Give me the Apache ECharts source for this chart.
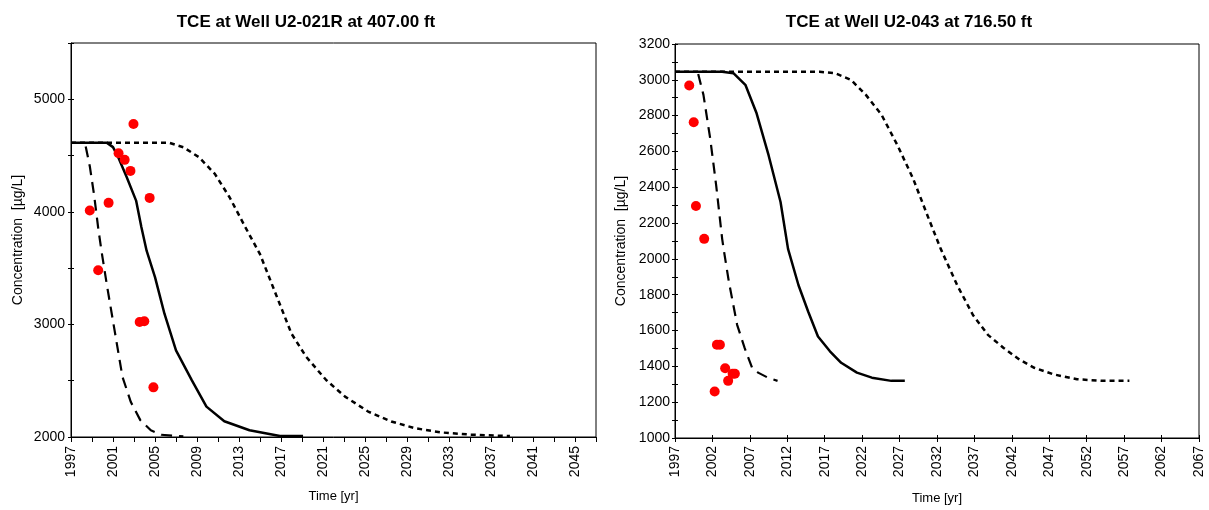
<!DOCTYPE html>
<html><head><meta charset="utf-8">
<script src="https://cdn.jsdelivr.net/npm/echarts@6/dist/echarts.min.js"></script>
<style>html,body{margin:0;padding:0;background:#fff}#c{width:1209px;height:510px}</style>
</head><body><div id="c"></div>
<script>
// ---- Left chart: TCE at Well U2-021R ----
var leftTitle = 'TCE at Well U2-021R at 407.00 ft';
var leftSolid = [[1997,4615],[2000.4,4615],[2001.0,4575],[2001.5,4485],[2002.3,4310],[2003.2,4100],[2003.7,3865],[2004.2,3655],[2005.0,3420],[2005.9,3095],[2007.0,2770],[2008.5,2505],[2009.9,2270],[2011.6,2140],[2014.0,2060],[2016.9,2008],[2019.1,2008]];
var leftDashed = [[1998.4,4580],[1998.8,4400],[1999.2,4150],[1999.6,3850],[1999.9,3655],[2000.4,3360],[2001.2,2920],[2001.9,2535],[2002.7,2310],[2003.6,2150],[2004.6,2060],[2005.6,2020],[2007.7,2005]];
var leftDotted = [[1997,4615],[2006.3,4615],[2007.7,4574],[2009.2,4485],[2010.7,4337],[2012.1,4130],[2013.6,3864],[2015.0,3624],[2016.5,3271],[2018.0,2918],[2019.4,2712],[2021.3,2506],[2023.1,2359],[2025.3,2226],[2027.5,2138],[2029.7,2079],[2032.2,2041],[2035.1,2021],[2038.8,2008]];
var leftObs = [[2002.95,4781],[2001.53,4521],[2002.11,4462],[2002.66,4364],[2004.49,4124],[2000.58,4080],[1998.79,4012],[1999.59,3482],[2003.54,3021],[2003.98,3029],[2004.85,2441]];

// ---- Right chart: TCE at Well U2-043 ----
var rightTitle = 'TCE at Well U2-043 at 716.50 ft';
var rightSolid = [[1997,3045],[2003.3,3045],[2004.8,3037],[2006.4,2972],[2007.9,2813],[2009.5,2579],[2011.1,2318],[2012.1,2056],[2013.5,1853],[2014.8,1705],[2016.1,1567],[2017.7,1484],[2019.2,1420],[2021.3,1365],[2023.3,1337],[2025.9,1319],[2027.7,1319]];
var rightDashed = [[2000.1,3032],[2000.8,2916],[2001.7,2673],[2002.5,2411],[2003.3,2112],[2003.5,2055],[2004.2,1871],[2005.3,1632],[2006.3,1503],[2007.3,1392],[2008.1,1365],[2009.4,1337],[2010.7,1319]];
var rightDotted = [[1997,3045],[2016.3,3045],[2018.4,3037],[2020.5,3000],[2022.5,2916],[2024.6,2804],[2026.7,2636],[2028.8,2449],[2030.9,2224],[2032.5,2056],[2034.7,1853],[2036.8,1687],[2038.8,1576],[2040.9,1503],[2043.0,1438],[2045.0,1392],[2047.6,1355],[2050.7,1328],[2054.3,1319],[2057.7,1319]];
var rightObs = [[1998.9,2968],[1999.5,2763],[1999.8,2295],[2000.9,2112],[2002.6,1521],[2003.0,1521],[2002.3,1260],[2003.7,1389],[2004.1,1319],[2004.7,1359],[2005.0,1359]];

var xName = 'Time [yr]';
var yName = 'Concentration  [\u00b5g/L]';

var FONT = '"Liberation Sans", Arial, sans-serif';
var chart = echarts.init(document.getElementById('c'), null, {renderer: 'canvas'});

function lineSeries(data, xi, type, width) {
  return {type: 'line', data: data, xAxisIndex: xi, yAxisIndex: xi, showSymbol: false, symbol: 'none',
    smooth: false, silent: true, z: 3,
    lineStyle: {color: '#000', width: width, type: type}};
}
function scatterSeries(data, xi) {
  return {type: 'scatter', data: data, xAxisIndex: xi, yAxisIndex: xi, symbol: 'circle', symbolSize: 10,
    itemStyle: {color: '#ff0000', opacity: 1}, z: 5, silent: true};
}
var axisLine = {show: true, onZero: false, lineStyle: {color: '#000', width: 1}};
var lbl = {color: '#000', fontSize: 14, fontFamily: FONT};

var option = {
  animation: false,
  backgroundColor: '#fff',
  title: [
    {text: leftTitle, left: 301, top: 9, textAlign: 'center', textStyle: {fontSize: 17, fontWeight: 'bold', color: '#000', fontFamily: FONT}},
    {text: rightTitle, left: 904, top: 9, textAlign: 'center', textStyle: {fontSize: 17, fontWeight: 'bold', color: '#000', fontFamily: FONT}}
  ],
  grid: [
    {left: 71, top: 43, width: 525, height: 394, show: true, borderColor: '#000', borderWidth: 1, backgroundColor: 'transparent'},
    {left: 675, top: 44, width: 524, height: 398, show: true, borderColor: '#000', borderWidth: 1, backgroundColor: 'transparent'}
  ],
  xAxis: [
    {type: 'value', gridIndex: 0, min: 1997, max: 2047, interval: 2, position: 'bottom',
      axisLine: axisLine, splitLine: {show: false},
      axisTick: {show: true, length: 5, inside: false, lineStyle: {color: '#000'}},
      axisLabel: Object.assign({rotate: 90, margin: 9, formatter: function (v) { return ((v - 1997) % 4 === 0 && v < 2047) ? String(v) : ''; }}, lbl),
      name: xName, nameLocation: 'middle', nameGap: 53, nameTextStyle: {fontSize: 13, color: '#000', fontFamily: FONT}},
    {type: 'value', gridIndex: 1, min: 1997, max: 2067, interval: 5, position: 'bottom',
      axisLine: axisLine, splitLine: {show: false},
      axisTick: {show: true, length: 4, inside: false, lineStyle: {color: '#000'}},
      axisLabel: Object.assign({rotate: 90, margin: 8, formatter: function (v) { return String(v); }}, lbl),
      name: xName, nameLocation: 'middle', nameGap: 54, nameTextStyle: {fontSize: 13, color: '#000', fontFamily: FONT}},
    {type: 'value', gridIndex: 1, min: 1997, max: 2067, interval: 5, position: 'bottom',
      axisLine: {show: false}, splitLine: {show: false}, axisLabel: {show: false},
      axisTick: {show: true, length: 3, inside: true, lineStyle: {color: '#000'}}}
  ],
  yAxis: [
    {type: 'value', gridIndex: 0, min: 2000, max: 5500, interval: 500, position: 'left',
      axisLine: axisLine, splitLine: {show: false},
      axisTick: {show: true, length: 3, inside: false, lineStyle: {color: '#000'}},
      axisLabel: Object.assign({margin: 6, formatter: function (v) { return v % 1000 === 0 ? String(v) : ''; }}, lbl),
      name: yName, nameLocation: 'middle', nameGap: 46, nameRotate: 90, nameTextStyle: {fontSize: 14, color: '#000', fontFamily: FONT}},
    {type: 'value', gridIndex: 1, min: 1000, max: 3200, interval: 100, position: 'left',
      axisLine: axisLine, splitLine: {show: false},
      axisTick: {show: true, length: 3, inside: false, lineStyle: {color: '#000'}},
      axisLabel: Object.assign({margin: 5, formatter: function (v) { return v % 200 === 0 ? String(v) : ''; }}, lbl),
      name: yName, nameLocation: 'middle', nameGap: 47, nameRotate: 90, nameTextStyle: {fontSize: 14, color: '#000', fontFamily: FONT}},
    {type: 'value', gridIndex: 0, min: 2000, max: 5500, interval: 500, position: 'left',
      axisLine: {show: false}, splitLine: {show: false}, axisLabel: {show: false},
      axisTick: {show: true, length: 3, inside: true, lineStyle: {color: '#000'}}},
    {type: 'value', gridIndex: 1, min: 1000, max: 3200, interval: 100, position: 'left',
      axisLine: {show: false}, splitLine: {show: false}, axisLabel: {show: false},
      axisTick: {show: true, length: 3, inside: true, lineStyle: {color: '#000'}}}
  ],
  series: [
    lineSeries(leftDotted, 0, [5, 4], 2.5),
    lineSeries(leftSolid, 0, 'solid', 2.5),
    lineSeries(leftDashed, 0, [11, 7], 2.2),
    scatterSeries(leftObs, 0),
    lineSeries(rightDotted, 1, [5, 4], 2.5),
    lineSeries(rightSolid, 1, 'solid', 2.5),
    lineSeries(rightDashed, 1, [11, 7], 2.2),
    scatterSeries(rightObs, 1)
  ]
};
chart.setOption(option);
</script>
</body></html>
